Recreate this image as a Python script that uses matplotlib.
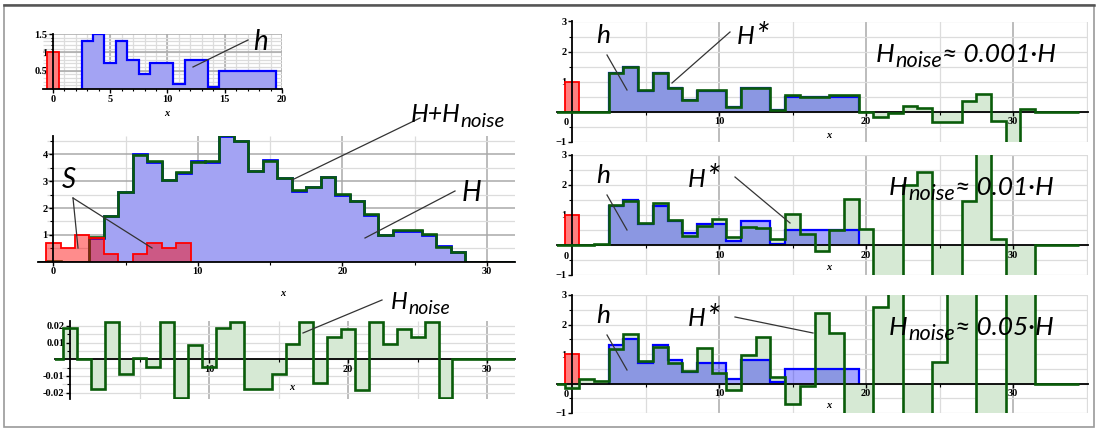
import numpy as np
import matplotlib
matplotlib.use("Agg")
import matplotlib.pyplot as plt
from matplotlib.lines import Line2D
from matplotlib.patches import Rectangle

W, HPX = 1098, 430

plt.rcParams["font.family"] = ["Liberation Serif", "DejaVu Serif"]

# ---------------- donnees ----------------
# h : reponse impulsionnelle (bins centres sur les entiers 3..19)
h_x = np.arange(3, 20)
h_vals = [1.3, 1.5, 0.7, 1.3, 0.8, 0.4, 0.7, 0.7, 0.15, 0.8, 0.8, 0.05,
          0.5, 0.5, 0.5, 0.5, 0.5]
delta_val = 1.0  # barre rouge en x = 0

# S : signal source (bins 0..9)
S_x = np.arange(0, 10)
S_vals = [0.7, 0.5, 1.0, 0.9, 0.3, 0.0, 0.3, 0.7, 0.5, 0.7]

# H : signal mesure (bins -1..32)
H_x = np.arange(-1, 33)
H_vals = [0, 0, 0, 0, 0.9, 1.7, 2.6, 4.0, 3.72, 3.06, 3.32, 3.74, 3.72, 4.7,
          4.52, 3.4, 3.78, 3.12, 2.65, 2.8, 3.15, 2.5, 2.28, 1.75, 1.0, 1.16,
          1.16, 1.0, 0.58, 0.37, 0, 0, 0, 0]

# bruit (bins -1..32)
noise_vals = [0, 0.019, 0, -0.018, 0.0225, -0.009, 0.0005, -0.0045, 0.0225,
              -0.023, 0.0085, -0.0045, 0.019, 0.0225, -0.018, -0.018, -0.009,
              0.009, 0.0225, -0.014, 0.0135, 0.018, -0.0185, 0.0225, 0.009,
              0.018, 0.0135, 0.0225, -0.023, 0, 0, 0, 0, 0]

# H* reconstruit (bins -1..34), 3 niveaux de bruit
Hs_x = np.arange(-1, 35)
Hs_001 = [0, 0, 0, 0, 1.3, 1.5, 0.72, 1.3, 0.8, 0.4, 0.72, 0.72, 0.17, 0.8,
          0.8, 0.05, 0.55, 0.5, 0.5, 0.55, 0.57, 0.0, -0.17, -0.06, 0.2, 0.11,
          -0.36, -0.36, 0.34, 0.59, -0.32, -1.5, 0.09, 0, 0, 0]
Hs_01 = [0, 0, 0, 0.05, 1.32, 1.47, 0.72, 1.40, 0.84, 0.31, 0.64, 0.87, 0.27,
         0.61, 0.57, 0.19, 1.04, 0.36, -0.2, 0.5, 1.55, 0.53, -1.5, -1.5, 2.0,
         2.45, -1.5, -1.5, 1.47, 3.5, 0.19, -1.5, -1.5, 0, 0, 0]
Hs_05 = [0, -0.14, 0.15, 0.09, 1.16, 1.68, 0.77, 1.25, 0.68, 0.43, 1.21, 0.36,
         -0.23, 0.96, 1.56, 0.22, -0.68, -0.09, 2.38, 1.7, -1.5, -1.5, 2.6, 3.5,
         -1.5, -1.5, 0.73, 3.5, 3.5, -1.5, -1.5, 3.5, 3.5, 0, 0, 0]
noise_labels = ["0.001", "0.01", "0.05"]

BLUE_FILL = "#a3a3f3"
BLUE = "#0000ff"
GREEN = "#0a5c0a"
GREEN_FILL = "#d6e9d4"
RED = "#ff0000"
RED_FILL = "#ff7f7f"
GRID_L = "#dcdcdc"
GRID_D = "#a9a9a9"
SANS = ["Lato", "DejaVu Sans"]


def edges(xc):
    xc = np.asarray(xc, dtype=float)
    return np.append(xc - 0.5, xc[-1] + 0.5)


def px_axes(fig, l, t, r, b):
    return fig.add_axes([l / W, 1 - b / HPX, (r - l) / W, (b - t) / HPX])


def maple_axes(ax, xticks, yticks, xminor, yminor, ylabels=None):
    for s in ["top", "right"]:
        ax.spines[s].set_visible(False)
    ax.spines["left"].set_position(("data", 0))
    ax.spines["bottom"].set_position(("data", 0))
    for s in ["left", "bottom"]:
        ax.spines[s].set_linewidth(1.3)
        ax.spines[s].set_zorder(4)
    ax.set_xticks(xticks)
    ax.set_yticks(yticks)
    if ylabels is not None:
        ax.set_yticklabels(ylabels)
    ax.set_xticks(xminor, minor=True)
    ax.set_yticks(yminor, minor=True)
    ax.tick_params(which="major", length=3, width=1, pad=1, labelsize=7.5)
    ax.tick_params(which="minor", length=2, width=0.8)
    for lab in ax.get_xticklabels() + ax.get_yticklabels():
        lab.set_fontweight("bold")
    ax.patch.set_alpha(0)


def grid(ax, xs_d, xs_l, ys_d, ys_l, x0, x1, y0, y1):
    ax.vlines(xs_l, y0, y1, color=GRID_L, lw=0.9, zorder=0)
    ax.vlines(xs_d, y0, y1, color=GRID_D, lw=1.1, zorder=0)
    ax.hlines(ys_l, x0, x1, color=GRID_L, lw=0.9, zorder=0)
    ax.hlines(ys_d, x0, x1, color=GRID_D, lw=1.1, zorder=0)


fig = plt.figure(figsize=(W / 100, HPX / 100), dpi=100)
renderer = fig.canvas.get_renderer()


def ftext(x, y, s, size, **kw):
    return fig.text(x / W, 1 - y / HPX, s, fontsize=size, family=SANS,
                    style="italic", **kw)


def noise_text(x, y, size, tail="", sub=0.82, drop=5):
    # H, puis "noise" en indice, puis la suite eventuelle
    t = ftext(x, y, "H", size, ha="left", va="baseline")
    x1 = t.get_window_extent(renderer).x1
    t = ftext(x1 + 0.5, y + drop, "noise", size * sub, ha="left", va="baseline")
    x1 = t.get_window_extent(renderer).x1
    if tail:
        ftext(x1, y, tail, size, ha="left", va="baseline")


def hstar(xc, y, size):
    # "H*" avec une etoile plus grande, comme sur l'original
    t = ftext(xc - 7, y, "H", size, ha="center", va="baseline")
    x1 = t.get_window_extent(renderer).x1
    ftext(x1 + 0.3, y + 3, "*", size * 1.35, ha="left", va="baseline")


def fline(x0, y0, x1, y1):
    fig.add_artist(Line2D([x0 / W, x1 / W], [1 - y0 / HPX, 1 - y1 / HPX],
                          color="#333333", lw=0.9, transform=fig.transFigure))


def xlab(x, y):
    fig.text(x / W, 1 - y / HPX, "x", fontsize=7.5, style="italic",
             weight="bold", ha="center", va="center")


# ---------- panneau h ----------
ax = px_axes(fig, 43, 34, 282, 89)
ax.set_xlim(-0.87, 20)
ax.set_ylim(0, 1.5)
grid(ax, [5, 10, 15, 20], np.arange(0, 21), [0.5, 1.0, 1.5],
     np.arange(0.1, 1.5, 0.1), -0.87, 20, 0, 1.5)
ax.stairs(h_vals, edges(h_x), fill=True, color=BLUE_FILL, zorder=2)
ax.stairs(h_vals, edges(h_x), color=BLUE, lw=1.6, zorder=3)
ax.stairs([delta_val], [-0.5, 0.5], fill=True, color=RED_FILL, zorder=2)
ax.stairs([delta_val], [-0.5, 0.5], color=RED, lw=1.3, zorder=3)
maple_axes(ax, [0, 5, 10, 15, 20], [0.5, 1, 1.5], np.arange(0, 21),
           np.arange(0.1, 1.5, 0.1), ["0.5", "1", "1.5"])
ax.tick_params(which="minor", length=1.5)
xlab(167, 113)

# ---------- panneau H ----------
ax = px_axes(fig, 38, 135.7, 515, 261.7)
ax.set_xlim(-1.06, 31.95)
ax.set_ylim(0, 4.7)
grid(ax, [10, 20, 30], [5, 15, 25], [1, 2, 3, 4], [0.5, 1.5, 2.5, 3.5, 4.5],
     -0.45, 31.95, 0, 4.7)
Hn = np.array(H_vals) + np.array(noise_vals)
ax.stairs(H_vals, edges(H_x), fill=True, color=BLUE_FILL, zorder=1)
ax.stairs(H_vals, edges(H_x), baseline=None, color=BLUE, lw=2.0, zorder=2)
ax.stairs(Hn, edges(H_x), baseline=None, color=GREEN, lw=1.9, zorder=3)
ax.stairs(S_vals, edges(S_x), fill=True, color=RED, alpha=0.45, lw=0, zorder=3)
ax.stairs(S_vals, edges(S_x), color=RED, lw=1.3, zorder=3.5)
maple_axes(ax, [0, 10, 20, 30], [1, 2, 3, 4], [5, 15, 25],
           [0.5, 1.5, 2.5, 3.5, 4.5])
xlab(283, 294)

# ---------- panneau bruit ----------
ax = px_axes(fig, 55, 321, 515, 398.5)
ax.set_xlim(-1.08, 32.0)
ax.set_ylim(-0.0235, 0.0229)
grid(ax, [10, 20, 30], [5, 15, 25], [], np.arange(-0.02, 0.021, 0.005),
     -0.6, 32.0, -0.0235, 0.0229)
ax.stairs(noise_vals, edges(H_x), fill=True, color=GREEN_FILL, zorder=1)
ax.stairs(noise_vals, edges(H_x), baseline=None, color=GREEN, lw=1.9, zorder=5)
maple_axes(ax, [10, 20, 30], [-0.02, -0.01, 0.01, 0.02], [5, 15, 25],
           [-0.015, -0.005, 0.005, 0.015],
           ["-0.02", "-0.01", "0.01", "0.02"])
xlab(292, 388)

# ---------- panneaux H* ----------
rows = [(21.5, 141.7), (155, 275), (295, 413)]
for (top, bot), Hs in zip(rows, [Hs_001, Hs_01, Hs_05]):
    ax = px_axes(fig, 557, top, 1088, bot)
    ax.set_xlim(-1.02, 35.1)
    ax.set_ylim(-1, 3)
    grid(ax, [10, 20, 30], [5, 15, 25, 35], [],
         np.arange(-1, 3.01, 0.5), 0, 35.1, -1, 3)
    ax.stairs(Hs, edges(Hs_x), fill=True, color=GREEN_FILL, zorder=1)
    ax.stairs(h_vals, edges(h_x), fill=True, color=BLUE, alpha=0.35, lw=0,
              zorder=2)
    ax.stairs(h_vals, edges(h_x), color=BLUE, lw=1.6, zorder=3)
    ax.stairs([delta_val], [-0.5, 0.5], fill=True, color=RED_FILL, zorder=2)
    ax.stairs([delta_val], [-0.5, 0.5], color=RED, lw=1.3, zorder=3)
    ax.stairs(Hs, edges(Hs_x), baseline=None, color=GREEN, lw=1.9, zorder=5)
    maple_axes(ax, [10, 20, 30], [-1, 1, 2, 3], [5, 15, 25],
               [-0.5, 0.5, 1.5, 2.5])
    ax.text(-0.2, -0.22, "0", fontsize=7.5, weight="bold", ha="right", va="top")

xlab(829, 135)
xlab(829, 268)
xlab(829, 406)

# ---------- annotations ----------
ftext(261, 50, "h", 20, ha="center", va="baseline")
fline(248, 40, 193, 67)

ftext(69, 188, "S", 20, ha="center", va="baseline")
fline(73, 198, 78, 248)
fline(73, 198, 152, 248)
t = ftext(411, 122, "H+", 18, ha="left", va="baseline")
noise_text(t.get_window_extent(renderer).x1 - 1, 122, 18)
fline(420, 118, 292, 180)
ftext(472, 201, "H", 20, ha="center", va="baseline")
fline(455, 191, 365, 238)
noise_text(391, 309, 17)
fline(382, 300, 303, 333)

for (top, bot), lab, y_h, y_line, tgt in zip(
        rows, noise_labels, [43, 183, 323], [0, 140, 280],
        [(672, 83), (790, 223), (813, 333)]):
    ftext(603, y_h, "h", 19, ha="center", va="baseline")
    fline(607, y_line + 55, 627, y_line + 90)
    if lab == "0.001":
        hstar(753, 43.5, 18)
        fline(730, 32, *tgt)
        noise_text(876, 62, 19, "\u2248 " + lab + "\u00b7H")
    else:
        hstar(704, y_line + 46.5, 18)
        fline(735, y_line + 37, *tgt)
        noise_text(889, y_line + 55, 19, "\u2248 " + lab + "\u00b7H")

# cadre
fig.add_artist(Rectangle((4 / W, 1 - 427 / HPX), 1090 / W, 422 / HPX,
                         transform=fig.transFigure, fill=False,
                         ec="#9a9a9a", lw=1.2))
fig.add_artist(Line2D([4 / W, 1094 / W], [1 - 5 / HPX, 1 - 5 / HPX],
                      color="#555555", lw=1.8, transform=fig.transFigure))

fig.savefig("out.png", dpi=100)
